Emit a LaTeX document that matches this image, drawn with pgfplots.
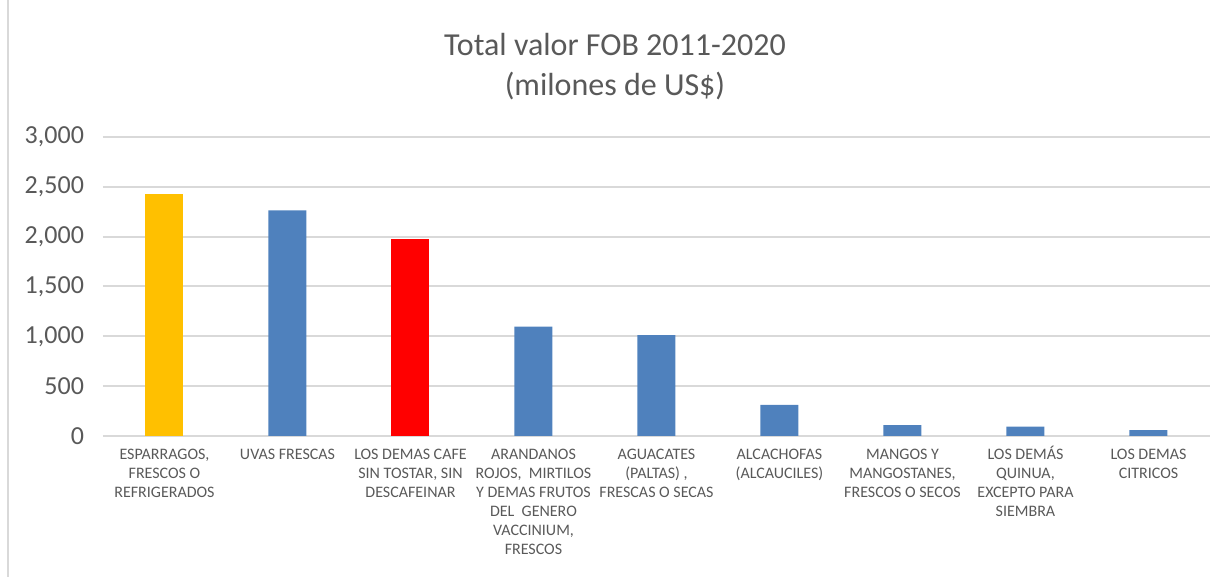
\documentclass[border=0pt]{standalone}
\usepackage{pgfplots}
\pgfplotsset{compat=1.18}
\usepackage{fontspec}
\setmainfont{Carlito}
\definecolor{txt}{HTML}{595959}
\definecolor{gridc}{HTML}{D9D9D9}
\definecolor{cyel}{HTML}{FFC000}
\definecolor{cblue}{HTML}{4F81BD}
\definecolor{cred}{HTML}{FF0000}
\newcommand\st{\rule{0pt}{8pt}}
\begin{document}
\begin{tikzpicture}
\path[use as bounding box] (0,0) rectangle (611.5pt,288.5pt);
\draw[draw=gridc, line width=0.8pt] (4pt,0) -- (4pt,288.5pt);
\node[text=txt, font=\fontsize{16}{20}\selectfont, align=center] at (307.5pt,255pt) {Total valor FOB 2011-2020\\(milones de US\$)};
\begin{axis}[
  at={(51.5pt,70.5pt)}, anchor=south west,
  scale only axis, width=553.5pt, height=149.5pt,
  ybar, bar width=19pt,
  xmin=-0.5, xmax=8.5, ymin=0, ymax=3000,
  ytick={0,500,...,3000},
  xtick={0,...,8},
  xticklabels={
    {\st ESPARRAGOS,\\FRESCOS O\\REFRIGERADOS},
    {\st UVAS FRESCAS},
    {\st LOS DEMAS CAFE\\SIN TOSTAR, SIN\\DESCAFEINAR},
    {\st ARANDANOS\\ROJOS,\ \ MIRTILOS\\Y DEMAS FRUTOS\\DEL\ \ GENERO\\VACCINIUM,\\FRESCOS},
    {\st AGUACATES\\(PALTAS) ,\\FRESCAS O SECAS},
    {\st ALCACHOFAS\\(ALCAUCILES)},
    {\st MANGOS Y\\MANGOSTANES,\\FRESCOS O SECOS},
    {\st LOS DEMÁS\\QUINUA,\\EXCEPTO PARA\\SIEMBRA},
    {\st LOS DEMAS\\CITRICOS}},
  xticklabel style={align=center, font=\fontsize{8}{9.5}\selectfont, text=txt, anchor=north, yshift=0pt},
  yticklabel style={font=\fontsize{13}{15}\selectfont, text=txt},
  /pgf/number format/.cd, 1000 sep={,}, assume math mode=true,
  /pgfplots/.cd,
  ymajorgrids=true, xmajorgrids=false,
  major grid style={draw=gridc, line width=1pt},
  axis x line*=bottom, axis y line*=left,
  y axis line style={draw=none},
  x axis line style={draw=gridc, line width=1pt},
  major tick length=0pt,
  tick style={draw=none},
  yticklabel shift=6pt,
  clip=false,
]
\addplot[fill=cyel, draw=none, bar shift=0pt] coordinates {(0,2428)};
\addplot[fill=cblue, draw=none, bar shift=0pt] coordinates {(1,2264) (3,1097) (4,1013) (5,311) (6,110) (7,93) (8,60)};
\addplot[fill=cred, draw=none, bar shift=0pt] coordinates {(2,1976)};
\end{axis}
\end{tikzpicture}
\end{document}
